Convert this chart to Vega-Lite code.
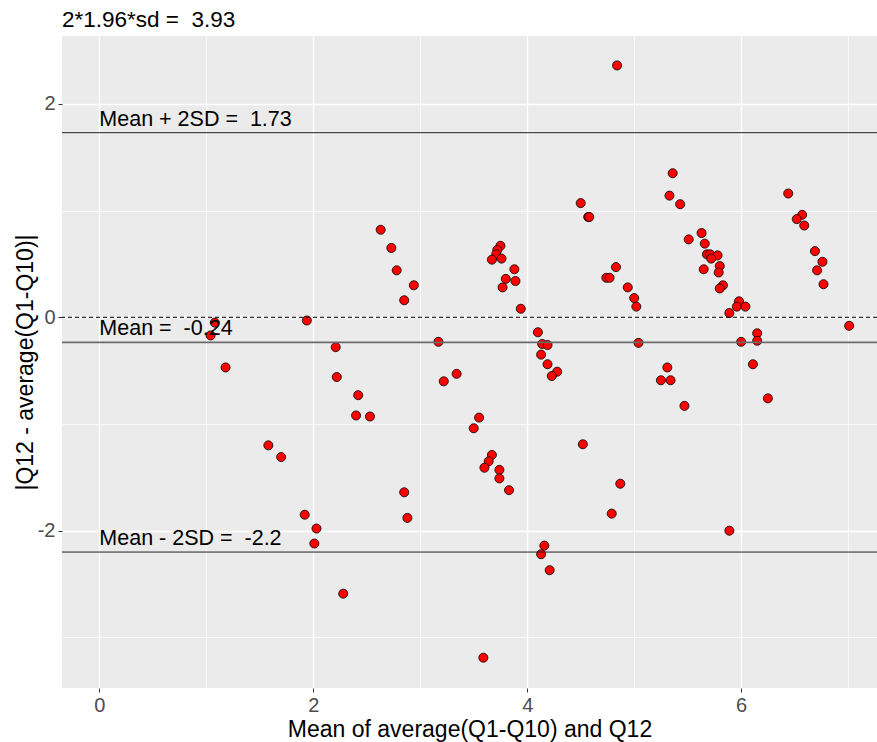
{
  "$schema": "https://vega.github.io/schema/vega-lite/v6.json",
  "width": 815,
  "height": 652,
  "autosize": {"type": "none"},
  "padding": {"left": 62, "top": 36, "right": 0, "bottom": 54},
  "background": "white",
  "title": {"text": "2*1.96*sd =\u00a0 3.93", "anchor": "start", "frame": "group", "fontSize": 22.5, "fontWeight": "normal", "font": "Liberation Sans", "color": "black", "baseline": "alphabetic", "offset": 10, "dy": 23},
  "config": {
    "font": "Liberation Sans",
    "view": {"fill": "#EBEBEB", "stroke": null},
    "axis": {
      "domain": false,
      "grid": true,
      "gridColor": "white",
      "gridWidth": {"condition": {"test": "datum.value % 2 === 0", "value": 1.4}, "value": 0.7},
      "tickOpacity": {"condition": {"test": "datum.value % 2 === 0", "value": 1}, "value": 0},
      "labelExpr": "datum.value % 2 === 0 ? '' + datum.value : ''",
      "tickColor": "#333333",
      "tickSize": 4,
      "labelFont": "Liberation Sans",
      "labelFontSize": 20,
      "labelColor": "#4D4D4D",
      "labelPadding": 3,
      "titleFont": "Liberation Sans",
      "titleFontSize": 23,
      "titleFontWeight": "normal",
      "titleColor": "black"
    }
  },
  "layer": [
    {
      "data": {"values": [
        {"m": 1.08, "d": -0.05}, {"m": 1.04, "d": -0.17}, {"m": 1.94, "d": -0.03}, {"m": 1.18, "d": -0.47},
        {"m": 2.21, "d": -0.28}, {"m": 2.22, "d": -0.56}, {"m": 2.42, "d": -0.73}, {"m": 2.40, "d": -0.92},
        {"m": 2.53, "d": -0.93}, {"m": 1.58, "d": -1.20}, {"m": 1.70, "d": -1.31}, {"m": 1.92, "d": -1.85},
        {"m": 2.03, "d": -1.98}, {"m": 2.01, "d": -2.12}, {"m": 2.28, "d": -2.59}, {"m": 2.63, "d": 0.82},
        {"m": 2.73, "d": 0.65}, {"m": 2.78, "d": 0.44}, {"m": 2.94, "d": 0.30}, {"m": 2.85, "d": 0.16},
        {"m": 3.17, "d": -0.23}, {"m": 3.34, "d": -0.53}, {"m": 3.22, "d": -0.60}, {"m": 3.55, "d": -0.94},
        {"m": 3.50, "d": -1.04}, {"m": 3.75, "d": 0.67}, {"m": 3.72, "d": 0.63}, {"m": 3.71, "d": 0.59},
        {"m": 3.67, "d": 0.54}, {"m": 3.76, "d": 0.55}, {"m": 3.88, "d": 0.45}, {"m": 3.80, "d": 0.36},
        {"m": 3.89, "d": 0.34}, {"m": 3.77, "d": 0.28}, {"m": 3.94, "d": 0.08}, {"m": 4.10, "d": -0.14},
        {"m": 4.14, "d": -0.25}, {"m": 4.19, "d": -0.26}, {"m": 4.13, "d": -0.35}, {"m": 4.19, "d": -0.44},
        {"m": 4.28, "d": -0.51}, {"m": 4.23, "d": -0.55}, {"m": 3.67, "d": -1.29}, {"m": 3.64, "d": -1.35},
        {"m": 3.60, "d": -1.41}, {"m": 3.74, "d": -1.43}, {"m": 3.74, "d": -1.51}, {"m": 3.83, "d": -1.62},
        {"m": 2.85, "d": -1.64}, {"m": 2.88, "d": -1.88}, {"m": 4.16, "d": -2.14}, {"m": 4.13, "d": -2.22},
        {"m": 4.21, "d": -2.37}, {"m": 3.59, "d": -3.19}, {"m": 4.52, "d": -1.19}, {"m": 4.84, "d": 2.36},
        {"m": 5.36, "d": 1.35}, {"m": 5.33, "d": 1.14}, {"m": 5.43, "d": 1.06}, {"m": 4.50, "d": 1.07},
        {"m": 4.57, "d": 0.94}, {"m": 4.58, "d": 0.94}, {"m": 5.51, "d": 0.73}, {"m": 5.63, "d": 0.79},
        {"m": 5.66, "d": 0.69}, {"m": 5.68, "d": 0.59}, {"m": 5.71, "d": 0.59}, {"m": 5.78, "d": 0.58},
        {"m": 5.72, "d": 0.55}, {"m": 5.65, "d": 0.45}, {"m": 5.80, "d": 0.48}, {"m": 5.79, "d": 0.42},
        {"m": 5.83, "d": 0.30}, {"m": 5.80, "d": 0.27}, {"m": 4.83, "d": 0.47}, {"m": 4.74, "d": 0.37},
        {"m": 4.77, "d": 0.37}, {"m": 4.94, "d": 0.28}, {"m": 5.00, "d": 0.18}, {"m": 5.02, "d": 0.10},
        {"m": 5.04, "d": -0.24}, {"m": 5.89, "d": 0.04}, {"m": 5.98, "d": 0.15}, {"m": 5.96, "d": 0.10},
        {"m": 6.04, "d": 0.10}, {"m": 6.00, "d": -0.23}, {"m": 6.15, "d": -0.15}, {"m": 6.15, "d": -0.22},
        {"m": 5.31, "d": -0.47}, {"m": 5.25, "d": -0.59}, {"m": 5.34, "d": -0.59}, {"m": 5.47, "d": -0.83},
        {"m": 4.87, "d": -1.56}, {"m": 4.79, "d": -1.84}, {"m": 5.89, "d": -2.00}, {"m": 6.11, "d": -0.44},
        {"m": 6.44, "d": 1.16}, {"m": 6.57, "d": 0.96}, {"m": 6.52, "d": 0.92}, {"m": 6.59, "d": 0.86},
        {"m": 6.69, "d": 0.62}, {"m": 6.76, "d": 0.52}, {"m": 6.71, "d": 0.44}, {"m": 6.77, "d": 0.31},
        {"m": 7.01, "d": -0.08}, {"m": 6.25, "d": -0.76}
      ]},
      "mark": {"type": "point", "shape": "circle", "filled": true, "fill": "#FF0000", "stroke": "black", "strokeWidth": 0.8, "size": 82, "opacity": 1},
      "encoding": {
        "x": {"field": "m", "type": "quantitative", "scale": {"domain": [-0.349, 7.27], "nice": false, "zero": false},
              "axis": {"values": [0, 1, 2, 3, 4, 5, 6, 7], "title": "Mean of average(Q1-Q10) and Q12", "titlePadding": 3}},
        "y": {"field": "d", "type": "quantitative", "scale": {"domain": [-3.474, 2.636], "nice": false, "zero": false},
              "axis": {"values": [-3, -2, -1, 0, 1, 2], "title": "|Q12 - average(Q1-Q10)|", "titlePadding": 0}}
      }
    },
    {
      "data": {"values": [{"v": 1.73}, {"v": -2.2}]},
      "mark": {"type": "rule", "color": "#222222", "strokeWidth": 1},
      "encoding": {"y": {"field": "v", "type": "quantitative"}}
    },
    {
      "data": {"values": [{"v": -0.235}]},
      "mark": {"type": "rule", "color": "#6b6b6b", "strokeWidth": 1.6},
      "encoding": {"y": {"field": "v", "type": "quantitative"}}
    },
    {
      "data": {"values": [{"v": 0}]},
      "mark": {"type": "rule", "color": "black", "strokeWidth": 1, "strokeDash": [4, 3]},
      "encoding": {"y": {"field": "v", "type": "quantitative"}}
    },
    {
      "data": {"values": [
        {"x": 0, "y": 1.73, "label": "Mean + 2SD =\u00a0 1.73"},
        {"x": 0, "y": -0.235, "label": "Mean =\u00a0 -0.24"},
        {"x": 0, "y": -2.2, "label": "Mean - 2SD =\u00a0 -2.2"}
      ]},
      "mark": {"type": "text", "align": "left", "baseline": "alphabetic", "dy": -7, "fontSize": 21.5, "font": "Liberation Sans", "color": "black"},
      "encoding": {
        "x": {"field": "x", "type": "quantitative"},
        "y": {"field": "y", "type": "quantitative"},
        "text": {"field": "label"}
      }
    }
  ]
}
